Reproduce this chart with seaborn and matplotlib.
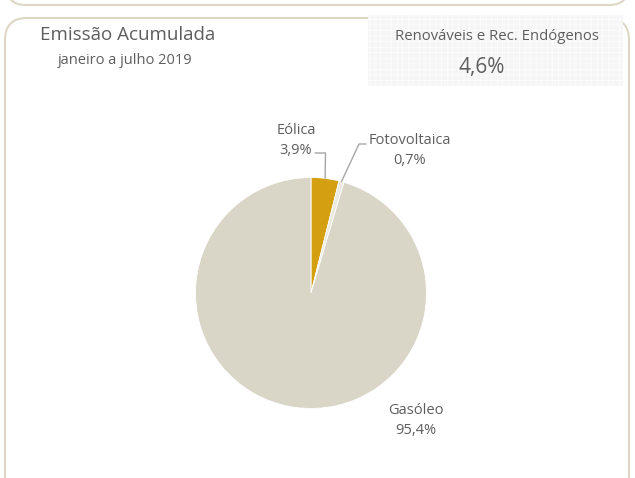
import seaborn as sns
import matplotlib.pyplot as plt
import numpy as np
from matplotlib.patches import FancyBboxPatch

# dados
fontes = ["Eólica", "Fotovoltaica", "Gasóleo"]
valores = [3.9, 0.7, 95.4]
rotulos = ["3,9%", "0,7%", "95,4%"]
cores = ["#d4a012", "#ece9df", "#d9d5c7"]
titulo = "Emissão Acumulada"
subtitulo = "janeiro a julho 2019"
caixa_titulo = "Renováveis e Rec. Endógenos"
caixa_valor = "4,6%"

sns.set_theme(style="white")
plt.rcParams["font.family"] = ["Open Sans", "DejaVu Sans"]
plt.rcParams["hatch.color"] = "#ebebeb"
plt.rcParams["hatch.linewidth"] = 0.4

W, H = 635, 478
fig = plt.figure(figsize=(W / 100, H / 100), dpi=100)
cinza = "#5e5e5e"


def px(x, y):
    # pixel (topo-esquerda) -> fração da figura
    return x / W, 1 - y / H


def caixa(x0, y0, x1, y1, raio, **kw):
    p = FancyBboxPatch((x0 / 100, (H - y1) / 100), (x1 - x0) / 100, (y1 - y0) / 100,
                       boxstyle=f"round,pad=0,rounding_size={raio / 100}",
                       transform=fig.dpi_scale_trans, **kw)
    fig.patches.append(p)


# molduras
caixa(5, -40, 629, 5, 20, facecolor="none", edgecolor="#ddd8c5", lw=1.5)
caixa(5, 18, 629, 500, 22, facecolor="none", edgecolor="#ddd8c5", lw=1.5)
caixa(368, 15, 623, 86, 0, facecolor="#f6f6f6", lw=0, hatch="+++")

# títulos
fig.text(*px(40, 35), titulo, fontsize=13.5, color=cinza, va="center", ha="left")
fig.text(*px(58, 61), subtitulo, fontsize=10.5, color=cinza, va="center", ha="left")
fig.text(*px(497, 37), caixa_titulo, fontsize=10.7, color=cinza, va="center", ha="center")
fig.text(*px(482, 67), caixa_valor, fontsize=15, color=cinza, va="center", ha="center")

# pizza
cx, cy, r = 311, 293, 115.5
ax = fig.add_axes([(cx - r) / W, (H - cy - r) / H, 2 * r / W, 2 * r / H])
wedges, _ = ax.pie(valores, colors=cores, startangle=90, counterclock=False,
                   radius=1, wedgeprops=dict(linewidth=0.6, edgecolor="white"))
ax.set_xlim(-1, 1)
ax.set_ylim(-1, 1)
ax.set_aspect("equal")
ax.axis("off")


def d(x, y):
    return (x - cx) / r, (cy - y) / r


# linhas de chamada
for w, (x1, y1), (x2, y2) in [(wedges[0], (325.5, 153), (315, 153)),
                              (wedges[1], (359, 144), (366, 144))]:
    ang = np.deg2rad((w.theta1 + w.theta2) / 2)
    pts = [(np.cos(ang), np.sin(ang)), d(x1, y1), d(x2, y2)]
    xs, ys = zip(*pts)
    ax.plot(xs, ys, color="#a6a6a6", lw=1, clip_on=False)

# rótulos
pos = [((296, 130), (296, 151)), ((410, 140), (410, 161)), ((416, 410), (416, 431))]
for nome, rot, (p1, p2) in zip(fontes, rotulos, pos):
    fig.text(*px(*p1), nome, fontsize=10.5, color=cinza, ha="center", va="center")
    fig.text(*px(*p2), rot, fontsize=10.5, color=cinza, ha="center", va="center")

fig.savefig("out.png", dpi=100, facecolor="white")
